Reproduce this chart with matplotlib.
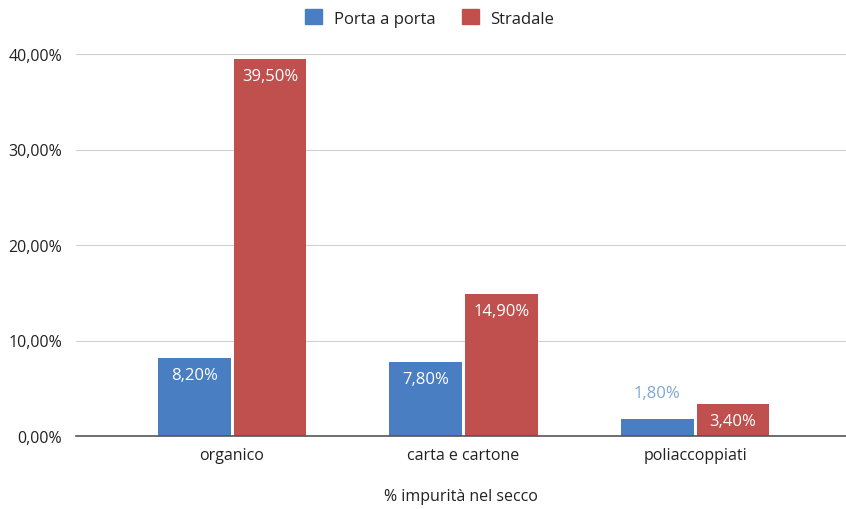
import numpy as np
import matplotlib.pyplot as plt
from matplotlib.patches import Patch
from matplotlib.ticker import FuncFormatter

plt.rcParams['font.family'] = ['Open Sans', 'DejaVu Sans']

categories = ['organico', 'carta e cartone', 'poliaccoppiati']
porta_a_porta = [8.2, 7.8, 1.8]
stradale = [39.5, 14.9, 3.4]
series_names = ['Porta a porta', 'Stradale']
y_ticks = [0, 10, 20, 30, 40]

BLUE = '#4a7ec2'
RED = '#c0504d'
TEXT = '#222222'


def pct(v):
    return f"{v:.2f}".replace('.', ',') + '%'


fig = plt.figure(figsize=(8.46, 5.10), dpi=100)
ax = fig.add_axes([76 / 846, 1 - 437 / 510, 1 - 76 / 846, (437 - 55) / 510])

x = np.arange(len(categories))
w = 0.315
off = 0.164
b1 = ax.bar(x - off, porta_a_porta, w, color=BLUE, zorder=3)
b2 = ax.bar(x + off, stradale, w, color=RED, zorder=3)

# value labels: white inside the bar, above it when the bar is too short
for bars, vals, col in [(b1, porta_a_porta, '#7fa6d6'), (b2, stradale, None)]:
    for bar, v in zip(bars, vals):
        cx = bar.get_x() + bar.get_width() / 2
        if v < 3:
            ax.annotate(pct(v), (cx, v), xytext=(0, 13), textcoords='offset points',
                        ha='center', va='bottom', color=col, fontsize=12)
        else:
            ax.annotate(pct(v), (cx, v), xytext=(0, -7), textcoords='offset points',
                        ha='center', va='top', color='white', fontsize=12)

ax.set_xlim(-0.674, 2.652)
ax.set_ylim(0, 40)
ax.set_yticks(y_ticks)
ax.yaxis.set_major_formatter(FuncFormatter(lambda v, p: pct(v)))
ax.set_xticks(x)
ax.set_xticklabels(categories)
ax.tick_params(axis='both', length=0, colors=TEXT, labelsize=11.5)
ax.tick_params(axis='y', pad=10)
ax.tick_params(axis='x', pad=8)
ax.grid(axis='y', color='#d0d0d0', linewidth=0.8, zorder=0)
for s in ['top', 'right', 'left']:
    ax.spines[s].set_visible(False)
ax.spines['bottom'].set_color('#555555')
ax.spines['bottom'].set_linewidth(1.2)
ax.spines['bottom'].set_zorder(4)

ax.set_xlabel('% impurità nel secco', color=TEXT, fontsize=11.5, labelpad=18)

handles = [Patch(color=BLUE), Patch(color=RED)]
fig.legend(handles, series_names, loc='center', bbox_to_anchor=(0.508, 1 - 19 / 510),
           ncol=2, frameon=False, fontsize=12, handlelength=1.0, handleheight=1.0,
           handletextpad=0.7, columnspacing=1.6, labelcolor=TEXT)

fig.savefig('out.png', dpi=100)
